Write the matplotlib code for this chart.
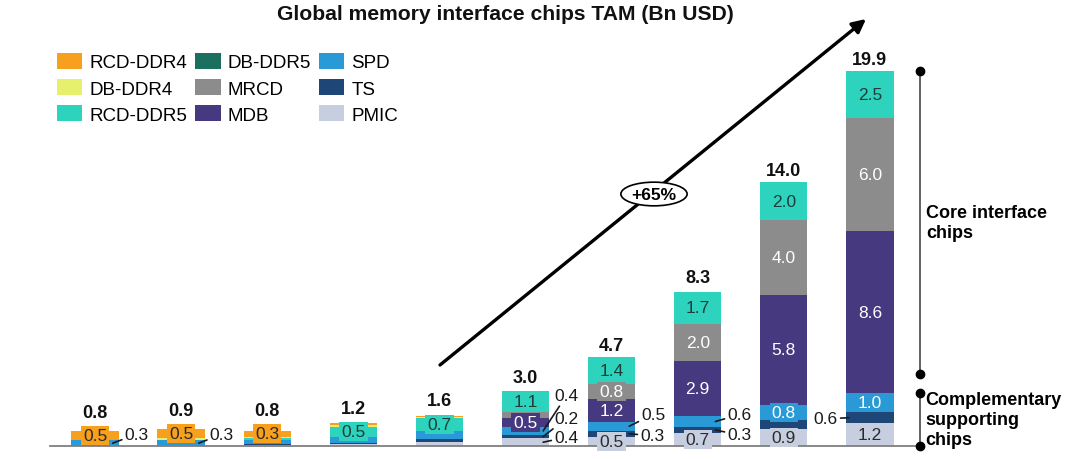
import matplotlib

matplotlib.use("Agg")

import matplotlib.pyplot as plt
import numpy as np
from matplotlib.patches import Patch

plt.rcParams["font.family"] = ["Liberation Sans", "DejaVu Sans"]

# --- data (Bn USD) -------------------------------------------------------
n_bars = 10
rcd_ddr4 = [0.5, 0.5, 0.3, 0.1, 0.05, 0.0, 0.0, 0.0, 0.0, 0.0]
db_ddr4 = [0.0, 0.1, 0.1, 0.1, 0.05, 0.0, 0.0, 0.0, 0.0, 0.0]
rcd_ddr5 = [0.0, 0.0, 0.1, 0.5, 0.7, 1.1, 1.4, 1.7, 2.0, 2.5]
db_ddr5 = [0.0, 0.0, 0.0, 0.0, 0.0, 0.0, 0.0, 0.0, 0.0, 0.0]
mrcd = [0.0, 0.0, 0.0, 0.0, 0.0, 0.3, 0.8, 2.0, 4.0, 6.0]
mdb = [0.0, 0.0, 0.0, 0.0, 0.0, 0.5, 1.2, 2.9, 5.8, 8.6]
spd = [0.3, 0.3, 0.2, 0.35, 0.45, 0.4, 0.5, 0.6, 0.8, 1.0]
ts = [0.0, 0.0, 0.05, 0.05, 0.15, 0.2, 0.3, 0.3, 0.5, 0.6]
pmic = [0.0, 0.0, 0.05, 0.1, 0.2, 0.4, 0.5, 0.7, 0.9, 1.2]
totals = [0.8, 0.9, 0.8, 1.2, 1.6, 3.0, 4.7, 8.3, 14.0, 19.9]
growth_label = "+65%"
title = "Global memory interface chips TAM (Bn USD)"

legend_order = ["RCD-DDR4", "DB-DDR4", "RCD-DDR5", "DB-DDR5", "MRCD", "MDB",
                "SPD", "TS", "PMIC"]
stack_order = ["PMIC", "TS", "SPD", "MDB", "MRCD", "DB-DDR5", "RCD-DDR5",
               "DB-DDR4", "RCD-DDR4"]
values = {
    "RCD-DDR4": rcd_ddr4, "DB-DDR4": db_ddr4, "RCD-DDR5": rcd_ddr5,
    "DB-DDR5": db_ddr5, "MRCD": mrcd, "MDB": mdb, "SPD": spd, "TS": ts,
    "PMIC": pmic,
}
colors = {
    "RCD-DDR4": "#F6A01E", "DB-DDR4": "#E6F06C", "RCD-DDR5": "#2ED3BE",
    "DB-DDR5": "#1C6E5E", "MRCD": "#8C8C8C", "MDB": "#46397F",
    "SPD": "#2A9AD6", "TS": "#1E4676", "PMIC": "#C6CEE0",
}
text_colors = {
    "RCD-DDR4": "#2b2b2b", "RCD-DDR5": "#1E3C3A", "MRCD": "white",
    "MDB": "white", "SPD": "white", "PMIC": "#2b2b2b",
}

# segments labelled inside the bar
inside_labels = [
    (0, "RCD-DDR4"), (1, "RCD-DDR4"), (2, "RCD-DDR4"),
    (3, "RCD-DDR5"), (4, "RCD-DDR5"),
    (5, "RCD-DDR5"), (5, "MDB"),
    (6, "RCD-DDR5"), (6, "MRCD"), (6, "MDB"), (6, "PMIC"),
    (7, "RCD-DDR5"), (7, "MRCD"), (7, "MDB"), (7, "PMIC"),
    (8, "RCD-DDR5"), (8, "MRCD"), (8, "MDB"), (8, "SPD"), (8, "PMIC"),
    (9, "RCD-DDR5"), (9, "MRCD"), (9, "MDB"), (9, "SPD"), (9, "PMIC"),
]
# segments labelled outside with a leader: (bar, series, side, dx px, dy px)
outside_labels = [
    (0, "SPD", "right", 12, 9),
    (1, "SPD", "right", 11, 9),
    (5, "SPD", "right", 11, 35),
    (5, "TS", "right", 11, 18),
    (5, "PMIC", "right", 11, 5),
    (6, "SPD", "right", 12, 12),
    (6, "TS", "right", 11, -2),
    (7, "SPD", "right", 12, 7),
    (7, "TS", "right", 12, -5),
    (9, "TS", "left", -11, -1),
]

# --- layout ----------------------------------------------------------------
W, H = 1080, 460
px_per_unit = 18.84
x0_px, step_px = 95.0, 86.1
base_px = 447.0
left_px, right_px = 50.0, 915.0
bar_w = 0.55
PT = 0.72  # points per pixel at dpi 100
label_fs = 12.5
box_half_px = 11.5  # half height of an inside label box

fig = plt.figure(figsize=(W / 100, H / 100), dpi=100)
ax = fig.add_axes([left_px / W, (H - base_px) / H,
                   (right_px - left_px) / W, base_px / H])
ax.set_xlim((left_px - x0_px) / step_px, (right_px - x0_px) / step_px)
ax.set_ylim(0, base_px / px_per_unit)
for side in ("top", "left", "right"):
    ax.spines[side].set_visible(False)
ax.spines["bottom"].set_color("#7f7f7f")
ax.spines["bottom"].set_linewidth(1.3)
ax.set_xticks([])
ax.set_yticks([])

x = np.arange(n_bars)
bottoms = {}
running = np.zeros(n_bars)
for name in stack_order:
    vals = np.array(values[name])
    bottoms[name] = running.copy()
    ax.bar(x, vals, bar_w, bottom=running, color=colors[name], linewidth=0,
           zorder=2)
    running += vals

label_top_px = np.array(totals) * px_per_unit
for i, name in inside_labels:
    v = values[name][i]
    mid = bottoms[name][i] + v / 2
    label_top_px[i] = max(label_top_px[i], mid * px_per_unit + box_half_px)
    ax.text(i, mid, f"{v:.1f}", ha="center", va="center",
            fontsize=label_fs, color=text_colors[name], zorder=4,
            bbox=dict(boxstyle="square,pad=0.12", fc=colors[name], ec="none"))

for i, name, side, dx, dy in outside_labels:
    v = values[name][i]
    mid = bottoms[name][i] + v / 2
    if side == "right":
        xy = (i + bar_w / 2 - 0.07, mid)
        ha = "left"
    else:
        xy = (i - bar_w / 2 + 0.03, mid)
        ha = "right"
    ax.annotate(f"{v:.1f}", xy=xy, xytext=(dx * PT, dy * PT),
                textcoords="offset points", ha=ha, va="center",
                fontsize=label_fs, color="#1a1a1a", zorder=5,
                arrowprops=dict(arrowstyle="-", color="#1a1a1a", lw=1.2,
                                shrinkA=0, shrinkB=0))

for i, t in enumerate(totals):
    lift = (label_top_px[i] - t * px_per_unit) * PT + 2.5
    ax.annotate(f"{t:.1f}", xy=(i, t), xytext=(0, lift),
                textcoords="offset points", ha="center", va="bottom",
                fontsize=13, fontweight="bold", color="#111111", zorder=5)

# bracket on the right
xb = (920 - x0_px) / step_px
support_top = pmic[-1] + ts[-1] + spd[-1]
core_bottom = support_top + 1.0
ax.plot([xb, xb], [totals[-1], core_bottom], color="#555555", lw=1.3,
        marker="o", ms=6, mfc="black", mec="black", clip_on=False, zorder=3)
ax.plot([xb, xb], [support_top, 0], color="#555555", lw=1.3,
        marker="o", ms=6, mfc="black", mec="black", clip_on=False, zorder=3)
ax.annotate("Core interface\nchips", xy=(xb, (totals[-1] + core_bottom) / 2),
            xytext=(6 * PT, 0), textcoords="offset points", ha="left",
            va="center", fontsize=13, fontweight="bold", linespacing=1.25,
            annotation_clip=False)
ax.annotate("Complementary\nsupporting\nchips", xy=(xb, support_top / 2),
            xytext=(5 * PT, 0), textcoords="offset points", ha="left",
            va="center", fontsize=13, fontweight="bold", linespacing=1.25,
            annotation_clip=False)

# growth arrow
ax.annotate("", xy=(866 / W, 1 - 20 / H), xycoords="figure fraction",
            xytext=(440 / W, 1 - 366 / H), textcoords="figure fraction",
            arrowprops=dict(arrowstyle="-|>", lw=2.4, color="black",
                            mutation_scale=20, shrinkA=0, shrinkB=0),
            zorder=6)
ax.text(654 / W, 1 - 195 / H, growth_label, transform=fig.transFigure,
        ha="center", va="center", fontsize=12.5, fontweight="bold", zorder=7,
        bbox=dict(boxstyle="ellipse,pad=0.05", fc="white", ec="black", lw=1.2))

fig.text(505 / W, 1 - 14 / H, title, ha="center", va="center", fontsize=15.2,
         fontweight="bold", color="#111111")

handles = [Patch(facecolor=colors[n], edgecolor="none") for n in legend_order]
fig.legend(handles, legend_order, loc="upper left",
           bbox_to_anchor=(57 / W, 1 - 54 / H), ncol=3, frameon=False,
           fontsize=13.5, handlelength=1.35, handleheight=0.92,
           handletextpad=0.38, columnspacing=0.42, labelspacing=0.42,
           borderpad=0, borderaxespad=0)

fig.savefig("out.png", dpi=100)
plt.close(fig)
